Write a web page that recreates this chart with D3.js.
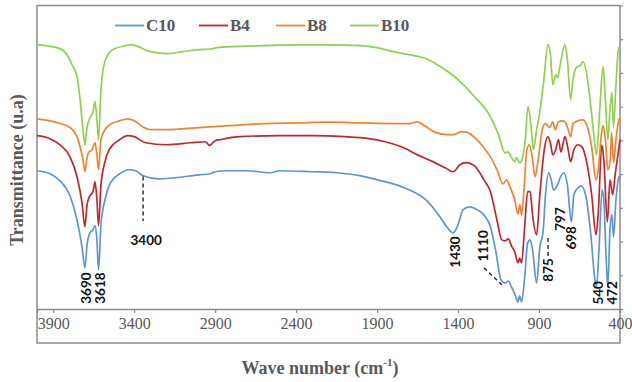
<!DOCTYPE html>
<html>
<head>
<meta charset="utf-8">
<script src="https://cdn.jsdelivr.net/npm/d3@7"></script>
<style>
  html, body { margin: 0; padding: 0; background: #fff; }
  svg { display: block; }
</style>
</head>
<body>
<svg id="chart" width="632" height="382"></svg>
<script>
// FTIR spectra: [wave number (cm-1), transmittance (a.u.)]
const c10 = [
  [4000,41.0],[3920,40.1],[3858,38.0],[3796,33.6],[3753,26.4],[3722,18.4],[3704,12.2],[3691,19.0],
  [3673,22.6],[3654,23.5],[3642,24.7],[3630,20.5],[3620,11.6],[3605,25.0],[3580,32.4],[3555,36.5],
  [3490,40.1],[3430,41.3],[3390,41.0],[3345,39.5],[3250,38.6],[3150,38.9],[3000,39.8],[2930,40.1],
  [2900,40.7],[2830,41.0],[2700,41.0],[2560,40.4],[2500,41.0],[2300,40.7],[2150,40.4],[2000,39.5],
  [1900,38.3],[1800,37.1],[1700,35.3],[1600,32.4],[1520,27.9],[1470,24.4],[1430,22.6],[1400,25.0],
  [1370,29.4],[1330,30.3],[1280,29.4],[1240,27.9],[1200,24.4],[1165,16.6],[1135,8.6],[1110,7.7],
  [1090,8.3],[1070,6.5],[1050,4.5],[1030,2.1],[1020,3.9],[1008,2.1],[990,8.6],[970,19.6],
  [955,20.5],[940,17.5],[915,7.7],[895,18.4],[875,22.9],[860,33.9],[840,40.4],[825,38.3],
  [810,35.3],[797,35.9],[785,36.8],[770,38.9],[745,40.4],[725,36.8],[700,25.8],[685,33.9],
  [660,35.9],[640,36.5],[610,33.3],[580,22.0],[555,8.6],[545,6.5],[530,17.5],[510,35.3],
  [500,32.4],[485,14.6],[475,6.5],[462,23.5],[450,27.9],[440,21.4],[425,32.4],[410,38.5],[400,39.5]
];
const b4 = [
  [4000,51.4],[3920,50.5],[3858,48.7],[3796,45.1],[3753,39.2],[3722,31.5],[3704,24.4],[3691,30.9],
  [3673,33.6],[3654,34.8],[3642,37.7],[3630,32.4],[3620,24.7],[3605,36.8],[3580,43.7],[3555,47.2],
  [3490,50.2],[3440,51.4],[3400,51.1],[3330,49.3],[3200,48.7],[3050,49.3],[2960,49.6],[2935,48.5],
  [2900,49.9],[2870,50.2],[2750,51.1],[2500,51.4],[2300,51.4],[2100,51.1],[1950,50.5],[1850,49.6],
  [1750,48.1],[1650,45.7],[1555,43.7],[1480,41.9],[1430,40.7],[1388,42.8],[1350,43.4],[1300,42.5],
  [1240,38.3],[1200,34.8],[1160,26.4],[1130,20.5],[1110,20.2],[1090,20.8],[1070,18.7],[1050,16.9],
  [1030,13.7],[1020,15.1],[1008,13.7],[990,23.5],[970,34.8],[955,34.8],[940,27.9],[915,22.0],
  [895,33.9],[865,48.1],[845,51.1],[830,49.3],[815,45.7],[797,47.2],[780,50.2],[765,46.6],
  [740,51.1],[720,47.2],[705,43.7],[685,47.2],[660,48.7],[635,48.1],[605,43.4],[575,33.9],
  [548,22.0],[535,27.9],[512,48.7],[500,44.3],[478,25.8],[462,38.3],[445,33.9],[430,39.8],
  [413,45.7],[400,50.2]
];
const b8 = [
  [4000,56.4],[3920,55.8],[3858,55.0],[3796,53.8],[3753,51.1],[3734,48.1],[3716,44.3],[3704,40.7],
  [3691,44.9],[3679,46.6],[3660,47.2],[3642,49.3],[3630,45.7],[3620,41.3],[3605,50.2],[3580,53.2],
  [3549,54.7],[3490,55.8],[3438,56.4],[3400,55.8],[3340,53.8],[3300,53.2],[3200,53.2],[3000,53.8],
  [2800,54.4],[2600,55.0],[2400,55.2],[2200,55.4],[2000,55.2],[1800,55.0],[1700,55.0],[1653,55.5],
  [1600,54.1],[1550,52.6],[1470,51.7],[1430,51.7],[1380,52.6],[1340,52.3],[1290,50.5],[1240,47.8],
  [1200,45.1],[1160,41.3],[1122,37.1],[1100,38.3],[1080,36.2],[1050,32.4],[1030,28.2],[1018,30.9],
  [1008,27.9],[995,33.9],[975,47.2],[960,48.7],[940,44.3],[925,39.2],[905,44.3],[880,53.2],
  [860,55.0],[835,53.8],[815,55.5],[800,53.2],[780,55.5],[755,55.8],[740,55.5],[720,53.2],
  [705,51.1],[690,55.0],[660,55.8],[630,56.1],[600,53.8],[575,48.1],[548,38.3],[535,41.0],
  [515,51.7],[505,54.4],[490,50.2],[475,41.3],[460,44.3],[452,52.3],[440,43.4],[425,50.2],
  [410,55.5],[400,56.7]
];
const b10 = [
  [4000,78.4],[3858,77.2],[3815,75.4],[3784,72.5],[3753,68.9],[3734,62.1],[3716,53.2],[3704,48.7],
  [3691,53.8],[3673,56.7],[3654,58.5],[3642,61.5],[3630,56.1],[3620,50.2],[3605,65.0],[3592,71.0],
  [3562,75.4],[3520,77.2],[3450,78.1],[3420,78.4],[3360,77.5],[3300,76.3],[3200,75.7],[3100,76.3],
  [3000,76.9],[2930,77.1],[2890,77.5],[2800,77.8],[2600,78.1],[2400,78.3],[2200,78.3],[2000,78.1],
  [1900,77.5],[1800,76.3],[1700,75.4],[1600,74.3],[1500,71.6],[1400,68.0],[1300,63.0],[1200,57.0],
  [1150,51.7],[1110,46.3],[1090,46.6],[1070,44.9],[1050,43.7],[1040,44.9],[1020,43.4],[1005,44.3],
  [985,50.2],[968,60.0],[950,54.7],[935,47.2],[915,53.2],[895,58.5],[870,68.0],[845,78.4],
  [830,75.7],[815,66.5],[797,69.5],[785,68.6],[770,72.2],[740,78.4],[725,74.0],[705,62.1],
  [690,68.0],[670,71.6],[645,72.2],[630,73.4],[605,69.5],[585,62.1],[565,53.2],[545,45.7],
  [525,59.1],[505,71.9],[490,62.1],[475,50.2],[462,59.1],[450,64.2],[440,53.8],[425,66.5],
  [410,76.9],[400,78.0]
];

const seriesNames = ["C10", "B4", "B8", "B10"];
const xTicks = [3900, 3400, 2900, 2400, 1900, 1400, 900, 400];
const bandLabels = ["3690", "3618", "3400", "1430", "1110", "875", "797", "698", "540", "472"];

const seriesData = [c10, b4, b8, b10];
const seriesColors = ["#5f95d3", "#c1272d", "#ee8530", "#92d050"];

const svg = d3.select("#chart");
const frame = { left: 37, right: 620, top: 5.5, axis: 309, bottom: 343 };

const x = d3.scaleLinear().domain([4000, 400]).range([frame.left, frame.right]);
const y = d3.scaleLinear().domain([0, 90]).range([frame.axis, frame.top]);

const axisGray = "#8c8c8c";
const textGray = "#595959";

// outer frame
svg.append("rect")
  .attr("x", frame.left).attr("y", frame.top)
  .attr("width", frame.right - frame.left)
  .attr("height", frame.bottom - frame.top)
  .attr("fill", "none").attr("stroke", axisGray).attr("stroke-width", 1.5);

// bottom wave-number axis
const xAxis = d3.axisBottom(x).tickValues(xTicks).tickSize(4).tickPadding(5).tickFormat(d3.format("d"));
const gx = svg.append("g").attr("transform", `translate(0,${frame.axis})`).call(xAxis);
gx.select(".domain").attr("stroke", axisGray).attr("stroke-width", 1.5);
gx.selectAll(".tick line").attr("stroke", axisGray).attr("stroke-width", 1.2);
gx.selectAll(".tick text")
  .attr("fill", textGray)
  .style("font-family", "'Liberation Serif', 'DejaVu Serif', serif")
  .style("font-size", "16px");

// right-hand transmittance axis, ticks only
const yAxis = d3.axisRight(y).ticks(9).tickSize(3).tickFormat("");
const gy = svg.append("g").attr("transform", `translate(${frame.right},0)`).call(yAxis);
gy.select(".domain").remove();
gy.selectAll(".tick line").attr("stroke", axisGray).attr("stroke-width", 1.2);

// spectra
const line = d3.line()
  .x(d => x(d[0]))
  .y(d => y(d[1]))
  .curve(d3.curveMonotoneX);

svg.append("g").selectAll("path")
  .data(seriesData)
  .join("path")
  .attr("d", line)
  .attr("fill", "none")
  .attr("stroke", (d, i) => seriesColors[i])
  .attr("stroke-width", 1.7)
  .attr("stroke-linejoin", "round");

// legend
const legendX = [115, 199, 276, 350];
const legend = svg.append("g");
seriesNames.forEach((name, i) => {
  legend.append("line")
    .attr("x1", legendX[i]).attr("x2", legendX[i] + 29)
    .attr("y1", 25.5).attr("y2", 25.5)
    .attr("stroke", seriesColors[i]).attr("stroke-width", 1.8);
  legend.append("text")
    .attr("x", legendX[i] + 31).attr("y", 25.5)
    .attr("dominant-baseline", "central")
    .attr("fill", textGray)
    .style("font-family", "'Liberation Serif', serif")
    .style("font-weight", "bold")
    .style("font-size", "17px")
    .text(name);
});

// axis titles
svg.append("text")
  .attr("transform", "translate(17,170) rotate(-90)")
  .attr("text-anchor", "middle")
  .attr("dominant-baseline", "central")
  .attr("fill", textGray)
  .style("font-family", "'Liberation Serif', serif")
  .style("font-weight", "bold")
  .style("font-size", "18px")
  .text("Transmittance (u.a)");

const xTitle = svg.append("text")
  .attr("x", 320).attr("y", 368)
  .attr("text-anchor", "middle")
  .attr("dominant-baseline", "central")
  .attr("fill", textGray)
  .style("font-family", "'Liberation Serif', serif")
  .style("font-weight", "bold")
  .style("font-size", "18px");
xTitle.append("tspan").text("Wave number (cm");
xTitle.append("tspan").attr("dy", -6).style("font-size", "11px").text("-1");
xTitle.append("tspan").attr("dy", 6).text(")");

// band annotations
const bandStyle = { font: "Lato, 'Liberation Sans', sans-serif", size: "13.5px" };
const bandLayout = {
  "3690": { dx: -1, t: 6.2, rot: true },
  "3618": { dx: 1.5, t: 6.2, rot: true },
  "3400": { dx: 12, t: 20.5, rot: false },
  "1430": { dx: 1.5, t: 16.9, rot: true },
  "1110": { dx: -22, t: 18.7, rot: true },
  "875":  { dx: 5, t: 11.6, rot: true },
  "797":  { dx: 4, t: 26.7, rot: true },
  "698":  { dx: -1, t: 21.1, rot: true },
  "540":  { dx: 1, t: 4.8, rot: true },
  "472":  { dx: 4, t: 4.8, rot: true }
};
const notes = svg.append("g");
bandLabels.forEach(lbl => {
  const L = bandLayout[lbl];
  const cx = x(+lbl) + L.dx, cy = y(L.t);
  notes.append("text")
    .attr("transform", L.rot ? `translate(${cx},${cy}) rotate(-90)` : `translate(${cx},${cy})`)
    .attr("text-anchor", "middle")
    .attr("dominant-baseline", "central")
    .attr("fill", "#111")
    .style("font-family", bandStyle.font)
    .style("font-weight", "bold")
    .style("font-size", bandStyle.size)
    .text(lbl);
});

// dashed leader lines
const leaders = [
  [[3345, 39.3], [3345, 26.1]],
  [[1105, 12.2], [1000 + 141, 7.1]],
  [[875, 16.0], [875, 21.9]]
];
const dash = svg.append("g")
  .attr("stroke", "#222").attr("stroke-width", 1.4)
  .attr("stroke-dasharray", "4,3").attr("fill", "none");
dash.append("line")
  .attr("x1", x(3345)).attr("y1", y(39.3)).attr("x2", x(3345)).attr("y2", y(26.1));
dash.append("line")
  .attr("x1", x(1110) - 21).attr("y1", y(12.2)).attr("x2", x(1110) - 3).attr("y2", y(7.1));
dash.append("line")
  .attr("x1", x(875) + 5).attr("y1", y(15.7)).attr("x2", x(875) + 5).attr("y2", y(21.6));
</script>
</body>
</html>
